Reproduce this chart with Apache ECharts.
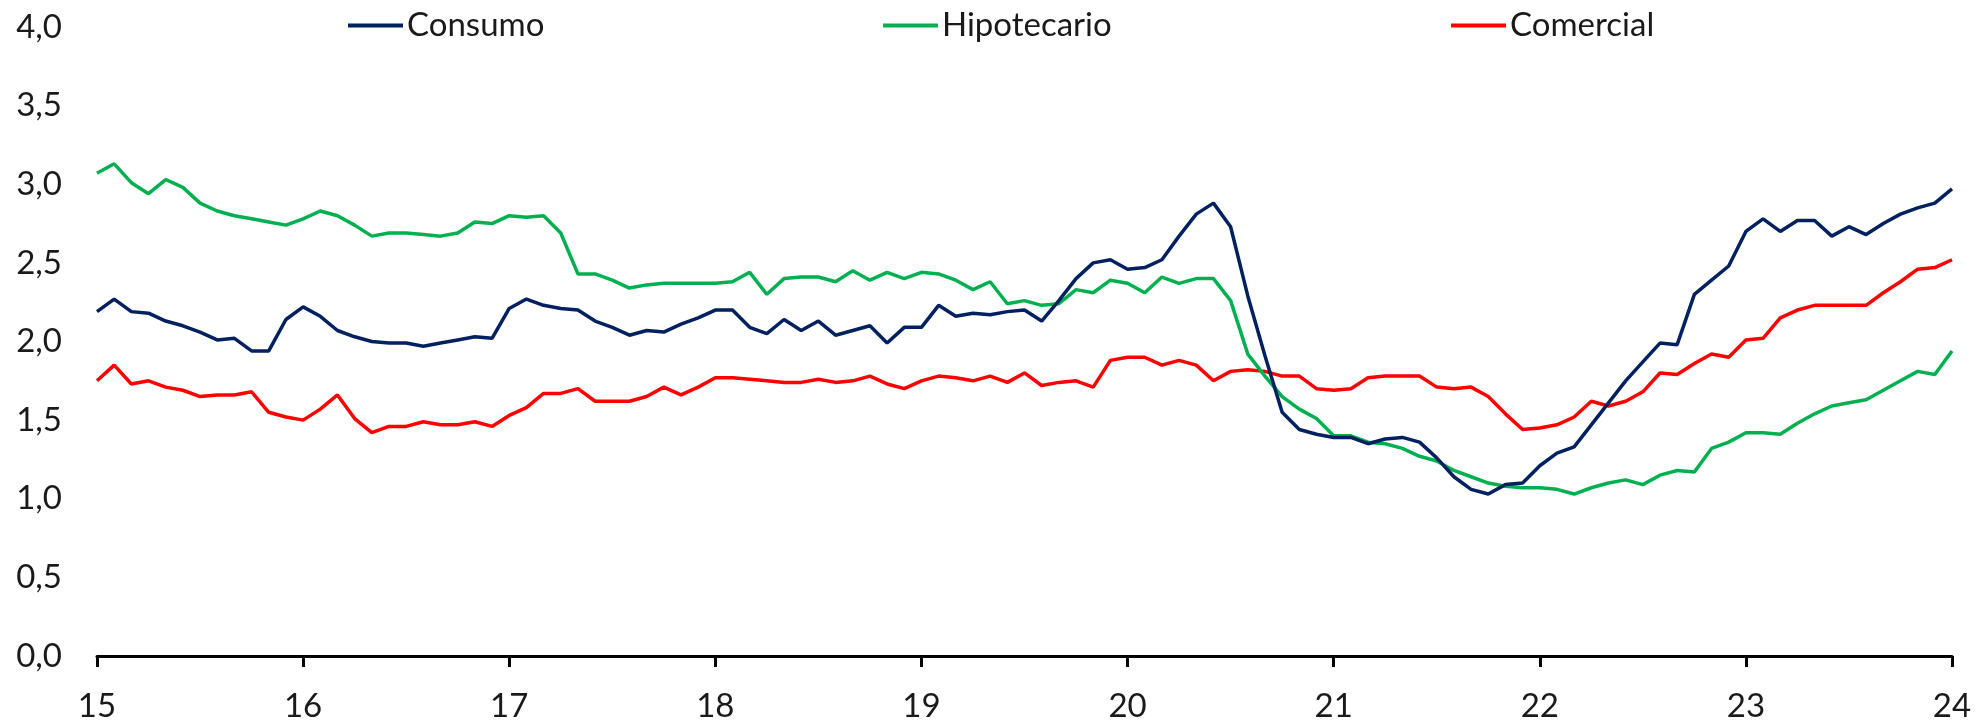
<!DOCTYPE html>
<html>
<head>
<meta charset="utf-8">
<script src="https://cdn.jsdelivr.net/npm/echarts@6/dist/echarts.min.js"></script>
<style>
html,body{margin:0;padding:0;background:#fff;}
#chart{width:1977px;height:723px;}
</style>
</head>
<body>
<div id="chart"></div>
<script>
// Monthly data, Jan 2015 (15) to Jan 2024 (24)
const startYear = 15;
const seriesNames = ['Consumo', 'Hipotecario', 'Comercial'];
const consumo = [
  2.19,2.27,2.19,2.18,2.13,2.10,2.06,2.01,2.02,1.94,1.94,2.14,
  2.22,2.16,2.07,2.03,2.00,1.99,1.99,1.97,1.99,2.01,2.03,2.02,
  2.21,2.27,2.23,2.21,2.20,2.13,2.09,2.04,2.07,2.06,2.11,2.15,
  2.20,2.20,2.09,2.05,2.14,2.07,2.13,2.04,2.07,2.10,1.99,2.09,
  2.09,2.23,2.16,2.18,2.17,2.19,2.20,2.13,2.26,2.40,2.50,2.52,
  2.46,2.47,2.52,2.67,2.81,2.88,2.73,2.29,1.91,1.55,1.44,1.41,
  1.39,1.39,1.35,1.38,1.39,1.36,1.26,1.14,1.06,1.03,1.09,1.10,
  1.21,1.29,1.33,1.47,1.61,1.75,1.87,1.99,1.98,2.30,2.39,2.48,
  2.70,2.78,2.70,2.77,2.77,2.67,2.73,2.68,2.75,2.81,2.85,2.88,
  2.97
];
const hipotecario = [
  3.07,3.13,3.01,2.94,3.03,2.98,2.88,2.83,2.80,2.78,2.76,2.74,
  2.78,2.83,2.80,2.74,2.67,2.69,2.69,2.68,2.67,2.69,2.76,2.75,
  2.80,2.79,2.80,2.69,2.43,2.43,2.39,2.34,2.36,2.37,2.37,2.37,
  2.37,2.38,2.44,2.30,2.40,2.41,2.41,2.38,2.45,2.39,2.44,2.40,
  2.44,2.43,2.39,2.33,2.38,2.24,2.26,2.23,2.24,2.33,2.31,2.39,
  2.37,2.31,2.41,2.37,2.40,2.40,2.26,1.92,1.78,1.65,1.57,1.51,
  1.40,1.40,1.36,1.35,1.32,1.27,1.24,1.18,1.14,1.10,1.08,1.07,
  1.07,1.06,1.03,1.07,1.10,1.12,1.09,1.15,1.18,1.17,1.32,1.36,
  1.42,1.42,1.41,1.48,1.54,1.59,1.61,1.63,1.69,1.75,1.81,1.79,
  1.94
];
const comercial = [
  1.75,1.85,1.73,1.75,1.71,1.69,1.65,1.66,1.66,1.68,1.55,1.52,
  1.50,1.57,1.66,1.51,1.42,1.46,1.46,1.49,1.47,1.47,1.49,1.46,
  1.53,1.58,1.67,1.67,1.70,1.62,1.62,1.62,1.65,1.71,1.66,1.71,
  1.77,1.77,1.76,1.75,1.74,1.74,1.76,1.74,1.75,1.78,1.73,1.70,
  1.75,1.78,1.77,1.75,1.78,1.74,1.80,1.72,1.74,1.75,1.71,1.88,
  1.90,1.90,1.85,1.88,1.85,1.75,1.81,1.82,1.81,1.78,1.78,1.70,
  1.69,1.70,1.77,1.78,1.78,1.78,1.71,1.70,1.71,1.65,1.54,1.44,
  1.45,1.47,1.52,1.62,1.59,1.62,1.68,1.80,1.79,1.86,1.92,1.90,
  2.01,2.02,2.15,2.20,2.23,2.23,2.23,2.23,2.31,2.38,2.46,2.47,
  2.52
];
const colors = ['#002060', '#00B050', '#FF0000'];
const FONT = 'Lato';

function toPairs(arr){ return arr.map((v,i)=>[startYear + i/12, v]); }

const chart = echarts.init(document.getElementById('chart'), null, {renderer:'canvas'});
const legendLefts = [343, 878, 1446];
const option = {
  animation: false,
  backgroundColor: '#ffffff',
  textStyle: {fontFamily: FONT},
  legend: seriesNames.map((n, i) => ({
    data: [n],
    left: legendLefts[i],
    top: 4,
    itemWidth: 55,
    itemHeight: 4,
    itemGap: 0,
    icon: 'rect',
    textStyle: {fontFamily: FONT, fontSize: 33, color: '#1a1a1a', padding: [0,0,0,-1]}
  })),
  grid: {left: 97, right: 25, top: 27, bottom: 65, containLabel: false},
  xAxis: {
    type: 'value',
    min: 15, max: 24, interval: 1,
    axisLine: {show: true, lineStyle: {color: '#000', width: 3}},
    axisTick: {show: true, inside: false, length: 11, lineStyle: {color: '#000', width: 3}},
    axisLabel: {fontFamily: FONT, fontSize: 33, color: '#1a1a1a', margin: 34, formatter: v => String(v)},
    splitLine: {show: false}
  },
  yAxis: {
    type: 'value',
    min: 0, max: 4, interval: 0.5,
    axisLine: {show: false},
    axisTick: {show: false},
    axisLabel: {fontFamily: FONT, fontSize: 33, color: '#1a1a1a', margin: 35,
      formatter: v => v.toFixed(1).replace('.', ',')},
    splitLine: {show: false}
  },
  series: [
    {name: seriesNames[0], type: 'line', data: toPairs(consumo), showSymbol: false, symbol: 'none',
      lineStyle: {color: colors[0], width: 3.5}, itemStyle: {color: colors[0]}, z: 3},
    {name: seriesNames[1], type: 'line', data: toPairs(hipotecario), showSymbol: false, symbol: 'none',
      lineStyle: {color: colors[1], width: 3.5}, itemStyle: {color: colors[1]}, z: 2},
    {name: seriesNames[2], type: 'line', data: toPairs(comercial), showSymbol: false, symbol: 'none',
      lineStyle: {color: colors[2], width: 3.5}, itemStyle: {color: colors[2]}, z: 1}
  ]
};
chart.setOption(option);
</script>
</body>
</html>
